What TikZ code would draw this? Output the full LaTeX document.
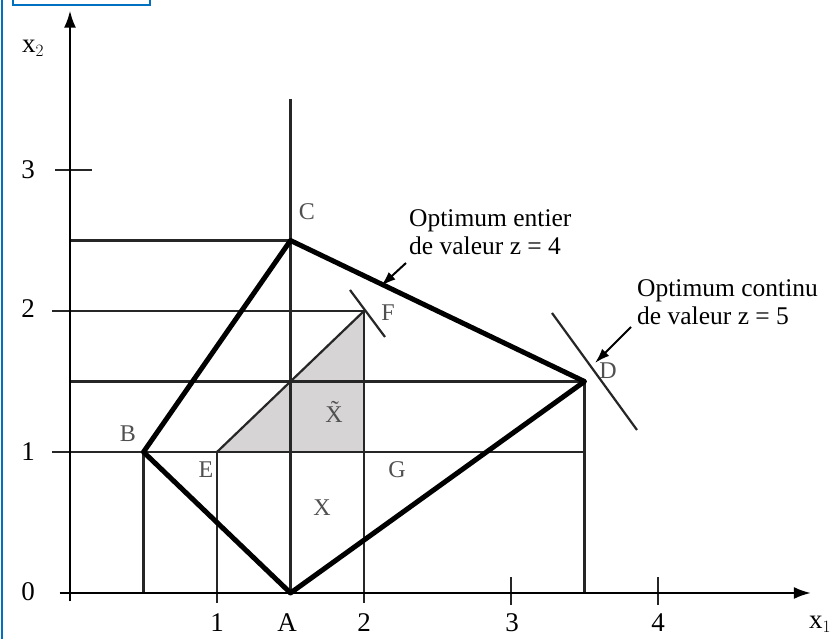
\documentclass[tikz,border=0pt]{standalone}
\usepackage{fontspec}
\setmainfont{Liberation Serif}
\usetikzlibrary{arrows.meta}
\definecolor{frameblue}{RGB}{0,112,192}
\definecolor{shadegray}{RGB}{214,212,212}
\definecolor{lbl}{RGB}{80,80,80}
\tikzset{
  thinline/.style={line width=2.2pt, black!85},
  thickline/.style={line width=5pt, black, line join=round, line cap=round},
  axislbl/.style={font=\fontsize{27}{30}\selectfont, inner sep=0pt},
  ptlbl/.style={font=\fontsize{24}{26}\selectfont, text=lbl, inner sep=0pt},
  notelbl/.style={font=\fontsize{25.5}{28}\selectfont, align=left, anchor=west, inner sep=0pt},
  ptr/.style={line width=2pt, -{Latex[length=15pt,width=10pt]}}
}
\begin{document}
\begin{tikzpicture}[x=1pt,y=1pt]
\useasboundingbox (0,0) rectangle (838,639);
\fill[white] (0,0) rectangle (838,639);
% blue frame remnants
\draw[frameblue, line width=2pt] (2,0) -- (2,639);
\draw[frameblue, line width=2pt] (13,640) -- (13,634) -- (150,634) -- (150,640);
\begin{scope}[shift={(70pt,46pt)}, x=147pt, y=141pt]
  \coordinate (O) at (0,0);
  \coordinate (A) at (1.5,0);
  \coordinate (B) at (0.5,1);
  \coordinate (C) at (1.5,2.5);
  \coordinate (D) at (3.5,1.5);
  \coordinate (E) at (1,1);
  \coordinate (F) at (2,2);
  \coordinate (G) at (2,1);
  \coordinate (Xend) at (5.04,0);
  \coordinate (Yend) at (0,4.13);
  \coordinate (Xstart) at (-0.07,0);
  \coordinate (Ystart) at (0,-0.06);
  % shaded region
  \fill[shadegray] (E) -- (F) -- (G) -- cycle;
  % grid lines
  \draw[thinline] (0,2.5) -- (C);
  \draw[thinline] (-0.12,2) -- (F);
  \draw[thinline] (0,1.5) -- (D);
  \draw[thinline] (-0.12,1) -- (3.5,1);
  \draw[thinline] (1.5,0) -- (1.5,3.5);
  \draw[thinline] (0.5,0) -- (B);
  \draw[thinline] (1,-0.07) -- (E);
  \draw[thinline] (2,-0.07) -- (F);
  \draw[thinline] (3.5,0) -- (D);
  \draw[thinline] (E) -- (F);
  % ticks
  \draw[thinline] (-0.1,3) -- (0.15,3);
  \draw[thinline] (3,-0.085) -- (3,0.11);
  \draw[thinline] (4,-0.085) -- (4,0.11);
  % axes
  \draw[line width=2.2pt, -{Latex[length=17pt,width=12pt]}] (Xstart) -- (Xend);
  \draw[line width=2.2pt, -{Latex[length=17pt,width=12pt]}] (Ystart) -- (Yend);
  % polygon
  \draw[thickline] (A) -- (B) -- (C) -- (D) -- cycle;
\end{scope}
% objective lines
\coordinate (f1) at (350,349);
\coordinate (f2) at (385,302);
\draw[thinline] (f1) -- (f2);
\coordinate (d1) at (552,326);
\coordinate (d2) at (637,209);
\draw[thinline] (d1) -- (d2);
% pointers
\coordinate (pe0) at (406,376);
\coordinate (pe1) at (381,353);
\draw[ptr] (pe0) -- (pe1);
\coordinate (pd0) at (631,312);
\coordinate (pd1) at (595,276);
\draw[ptr] (pd0) -- (pd1);
% axis labels
\node[axislbl] (lx2) at (33,591) {x$_2$};
\node[axislbl] (l3) at (28,469) {3};
\node[axislbl] (l2) at (28,330) {2};
\node[axislbl] (l1) at (28,187) {1};
\node[axislbl] (l0) at (28,47) {0};
\node[axislbl] (t1) at (217,16) {1};
\node[axislbl] (tA) at (287,16) {A};
\node[axislbl] (t2) at (364,16) {2};
\node[axislbl] (t3) at (512,16) {3};
\node[axislbl] (t4) at (658,16) {4};
\node[axislbl] (lx1) at (820,15) {x$_1$};
% point labels
\node[ptlbl] (lC) at (307,427) {C};
\node[ptlbl] (lB) at (128,205) {B};
\node[ptlbl] (lE) at (206,169) {E};
\node[ptlbl] (lF) at (388,326) {F};
\node[ptlbl] (lG) at (397,169) {G};
\node[ptlbl] (lD) at (608,268) {D};
\node[ptlbl] (lXt) at (334,227) {\~{X}};
\node[ptlbl] (lX) at (322,131) {X};
% notes
\node[notelbl] (n1) at (409,407) {Optimum entier\\de valeur z = 4};
\node[notelbl] (n2) at (637,337) {Optimum continu\\de valeur z = 5};
\end{tikzpicture}
\end{document}
